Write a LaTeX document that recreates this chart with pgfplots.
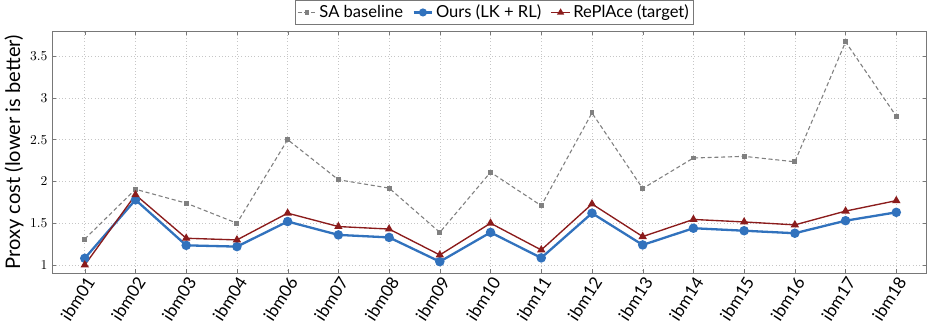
\documentclass[border=0pt]{standalone}
\usepackage{fontspec}
\setmainfont{Lato}
\usepackage{pgfplots}
\pgfplotsset{compat=1.18}
\definecolor{oursblue}{RGB}{49,114,189}
\definecolor{repred}{RGB}{139,28,28}
\definecolor{sagray}{RGB}{128,128,128}
\definecolor{framegray}{RGB}{120,120,120}
\begin{document}
\begin{tikzpicture}
\begin{axis}[
  scale only axis,
  width=644pt, height=178.5pt,
  xmin=-0.64, xmax=16.6,
  ymin=0.9, ymax=3.8,
  xtick={0,...,16},
  xticklabels={ibm01,ibm02,ibm03,ibm04,ibm06,ibm07,ibm08,ibm09,ibm10,ibm11,ibm12,ibm13,ibm14,ibm15,ibm16,ibm17,ibm18},
  x tick label style={rotate=57, anchor=north east, font=\fontsize{12.5}{14}\selectfont, inner sep=1pt},
  ytick={1,1.5,2,2.5,3,3.5},
  y tick label style={font=\fontsize{10}{12}\selectfont},
  ylabel={Proxy cost (lower is better)},
  ylabel style={font=\fontsize{14.8}{17}\selectfont, yshift=-2pt},
  axis line style={framegray},
  tick style={framegray},
  tick align=inside,
  major tick length=3pt,
  grid=major,
  major grid style={dotted, gray!45},
  legend columns=3,
  legend style={at={(0.5055,1.025)}, anchor=south, draw=framegray, font=\fontsize{12.2}{14}\selectfont, inner sep=1.5pt, /tikz/every even column/.append style={column sep=5pt}},
  legend image post style={scale=0.8},
]
\addplot[sagray, densely dashed, line width=0.8pt, mark=square*, mark size=1.4pt, mark options={solid}] coordinates {
(0,1.31) (1,1.906) (2,1.74) (3,1.50) (4,2.50) (5,2.02) (6,1.92) (7,1.39) (8,2.11) (9,1.71) (10,2.82) (11,1.915) (12,2.28) (13,2.30) (14,2.235) (15,3.67) (16,2.78)};
\addlegendentry{SA baseline}
\addplot[oursblue, line width=1.7pt, mark=*, mark size=2.6pt] coordinates {
(0,1.08) (1,1.78) (2,1.235) (3,1.22) (4,1.52) (5,1.36) (6,1.33) (7,1.04) (8,1.39) (9,1.085) (10,1.62) (11,1.24) (12,1.44) (13,1.41) (14,1.38) (15,1.53) (16,1.63)};
\addlegendentry{Ours (LK + RL)}
\addplot[repred, line width=1.0pt, mark=triangle*, mark size=2.6pt] coordinates {
(0,1.00) (1,1.84) (2,1.32) (3,1.30) (4,1.62) (5,1.46) (6,1.43) (7,1.12) (8,1.50) (9,1.18) (10,1.73) (11,1.34) (12,1.545) (13,1.515) (14,1.48) (15,1.645) (16,1.77)};
\addlegendentry{RePlAce (target)}
\end{axis}
\end{tikzpicture}
\end{document}
